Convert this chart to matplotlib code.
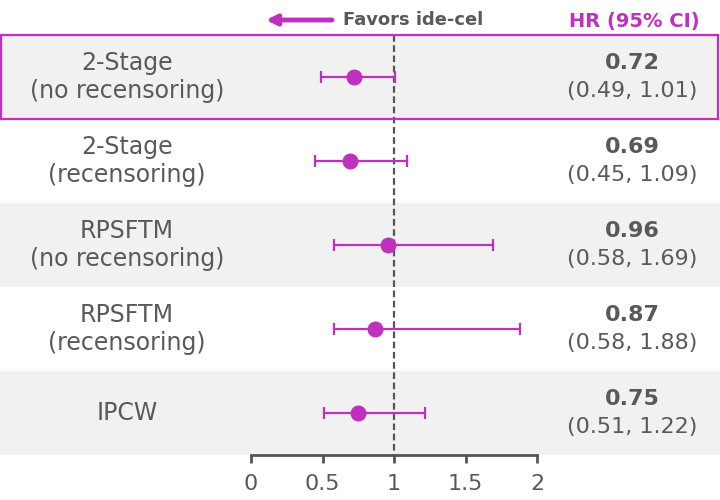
import numpy as np
import matplotlib
matplotlib.use('Agg')
import matplotlib.pyplot as plt
from matplotlib.patches import Rectangle

# data
methods = ['2-Stage\n(no recensoring)', '2-Stage\n(recensoring)',
           'RPSFTM\n(no recensoring)', 'RPSFTM\n(recensoring)', 'IPCW']
hr = [0.72, 0.69, 0.96, 0.87, 0.75]
ci_low = [0.49, 0.45, 0.58, 0.58, 0.51]
ci_high = [1.01, 1.09, 1.69, 1.88, 1.22]
xticks = [0, 0.5, 1, 1.5, 2]
xtick_labels = ['0', '0.5', '1', '1.5', '2']

purple = '#C030BF'
grey_txt = '#595959'
band = '#F1F1F1'

plt.rcParams['font.family'] = ['DejaVu Sans']

fig = plt.figure(figsize=(7.2, 5.0), dpi=100)
ax = fig.add_axes([0, 0.09, 1, 0.91])

x_left = -251 / 143.0
x_right = (720 - 251) / 143.0
ax.set_xlim(x_left, x_right)
ax.set_ylim(4.5, -77 / 84.0)

rows = np.arange(len(methods))

# background bands
for i in rows:
    if i % 2 == 0:
        ax.axhspan(i - 0.5, i + 0.5, color=band, zorder=0, lw=0)

# highlight first row
ax.add_patch(Rectangle((x_left + 0.004, -0.5), (x_right - x_left) - 0.02, 1.0,
                       fill=False, edgecolor=purple, lw=1.6, zorder=5, clip_on=False))

# reference line
ax.plot([1, 1], [-0.5, 4.5], ls=(0, (3, 1.6)), color='#555555', lw=1.6, zorder=2)

# estimates
err = [np.array(hr) - np.array(ci_low), np.array(ci_high) - np.array(hr)]
ax.errorbar(hr, rows, xerr=err, fmt='o', color=purple, ms=10.5, lw=1.6,
            capsize=4, capthick=1.6, zorder=4)

# labels
for i in rows:
    ax.text((127 - 251) / 143.0, i, methods[i], ha='center', va='center',
            fontsize=17, color=grey_txt, linespacing=1.2)
    ax.text((632 - 251) / 143.0, i - 0.17, '%.2f' % hr[i], ha='center', va='center',
            fontsize=16, color=grey_txt, fontweight='bold')
    ax.text((632 - 251) / 143.0, i + 0.17, '(%.2f, %.2f)' % (ci_low[i], ci_high[i]),
            ha='center', va='center', fontsize=16, color=grey_txt)

# header
hy = (20 - 77) / 84.0
ax.annotate('', xy=((266 - 251) / 143.0, hy), xytext=((332 - 251) / 143.0, hy),
            arrowprops=dict(arrowstyle='-|>', color=purple, lw=3.5, mutation_scale=15,
                            shrinkA=0, shrinkB=0))
ax.text((343 - 251) / 143.0, hy, 'Favors ide-cel', ha='left', va='center',
        fontsize=12.9, color=grey_txt, fontweight='bold')
ax.text((634 - 251) / 143.0, hy + 0.02, 'HR (95% CI)', ha='center', va='center',
        fontsize=14, color=purple, fontweight='bold')

# axis
for s in ['top', 'right', 'left']:
    ax.spines[s].set_visible(False)
ax.spines['bottom'].set_bounds(0, 2)
ax.spines['bottom'].set_color('#555555')
ax.spines['bottom'].set_linewidth(2)
ax.set_yticks([])
ax.set_xticks(xticks)
ax.set_xticklabels(xtick_labels)
ax.tick_params(axis='x', length=6, width=2, color='#555555', labelsize=16,
               labelcolor=grey_txt, pad=8)

fig.savefig('out.png', dpi=100)
